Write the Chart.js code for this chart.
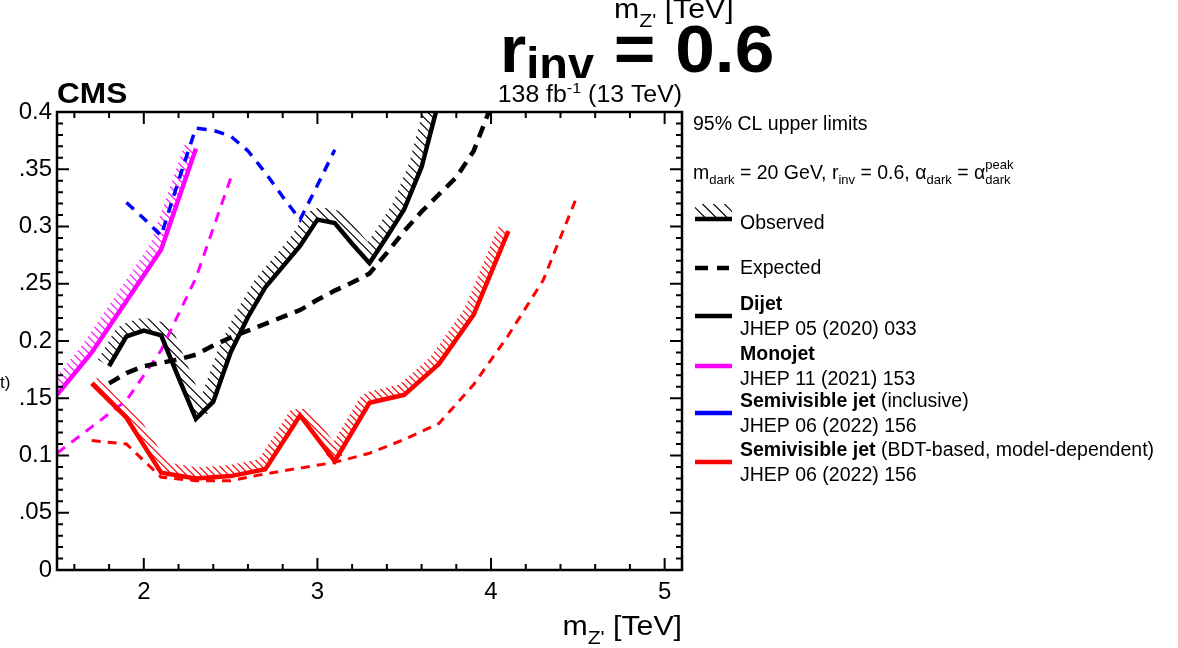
<!DOCTYPE html>
<html>
<head>
<meta charset="utf-8">
<script src="https://cdn.jsdelivr.net/npm/chart.js@4.4.1/dist/chart.umd.min.js"></script>
<style>
  html, body { margin: 0; padding: 0; background: #fff; }
  canvas { display: block; }
</style>
</head>
<body>
<canvas id="limits" width="1178" height="648"></canvas>
<script>
// ---- data (m_Z' in TeV, limit on coupling) ----
const dijetObsX = [1.8, 1.9, 2.0, 2.1, 2.2, 2.3, 2.4, 2.5, 2.6, 2.7, 2.8, 2.9, 3.0, 3.1, 3.2, 3.3, 3.4, 3.5, 3.6, 3.7];
const dijetObs  = [0.178, 0.204, 0.209, 0.205, 0.168, 0.132, 0.147, 0.19, 0.221, 0.247, 0.265, 0.283, 0.306, 0.303, 0.285, 0.268, 0.291, 0.315, 0.352, 0.41];
const dijetExpX = [1.8, 1.9, 2.0, 2.1, 2.2, 2.3, 2.4, 2.5, 2.6, 2.7, 2.8, 2.9, 3.0, 3.1, 3.2, 3.3, 3.4, 3.5, 3.6, 3.7, 3.8, 3.9, 4.0];
const dijetExp  = [0.163, 0.172, 0.178, 0.181, 0.184, 0.188, 0.196, 0.203, 0.209, 0.215, 0.221, 0.227, 0.236, 0.244, 0.251, 0.259, 0.277, 0.296, 0.313, 0.328, 0.343, 0.366, 0.405];

const monoObsX = [1.5, 1.7, 1.9, 2.1, 2.3];
const monoObs  = [0.153, 0.19, 0.235, 0.28, 0.368];
const monoExpX = [1.5, 1.7, 1.9, 2.1, 2.3, 2.5];
const monoExp  = [0.102, 0.125, 0.148, 0.192, 0.255, 0.342];

const svjExpX = [1.9, 2.0, 2.1, 2.2, 2.3, 2.4, 2.5, 2.6, 2.7, 2.8, 2.9, 3.0, 3.1];
const svjExp  = [0.321, 0.307, 0.292, 0.34, 0.386, 0.384, 0.379, 0.366, 0.347, 0.326, 0.306, 0.336, 0.367];

const bdtObsX = [1.7, 1.9, 2.1, 2.3, 2.5, 2.7, 2.9, 3.1, 3.3, 3.5, 3.7, 3.9, 4.1];
const bdtObs  = [0.163, 0.133, 0.085, 0.080, 0.082, 0.088, 0.135, 0.095, 0.146, 0.153, 0.18, 0.223, 0.296];
const bdtExpX = [1.7, 1.9, 2.1, 2.3, 2.5, 2.7, 2.9, 3.1, 3.3, 3.5, 3.7, 3.9, 4.1, 4.3, 4.5];
const bdtExp  = [0.113, 0.110, 0.081, 0.078, 0.078, 0.084, 0.089, 0.094, 0.102, 0.114, 0.128, 0.162, 0.205, 0.253, 0.328];

const xTickValues = [2, 3, 4, 5];
const xTickLabels = ["2", "3", "4", "5"];
const yTickValues = [0, 0.05, 0.1, 0.15, 0.2, 0.25, 0.3, 0.35, 0.4];
const yTickLabels = ["0", ".05", "0.1", ".15", "0.2", ".25", "0.3", ".35", "0.4"];

const FAM = '"Liberation Sans", Arial, Helvetica, sans-serif';
const BLACK = '#000000', MAGENTA = '#ff00ff', BLUE = '#0000ff', RED = '#ff0000';

function pts(xs, ys) { return xs.map((x, i) => ({ x: x, y: ys[i] })); }
function font(size, bold) { return (bold ? 'bold ' : '') + size + 'px ' + FAM; }

// draws a run of text pieces (sub/superscripts), returns width
function rich(ctx, x, y, parts, dry, sx) {
  sx = sx || 1;
  ctx.save();
  ctx.translate(x, y);
  ctx.scale(sx, 1);
  let cx = 0;
  for (const p of parts) {
    if (p.stack) {
      ctx.font = font(p.size, false);
      if (!dry) { ctx.fillText(p.sup, cx, p.supDy); ctx.fillText(p.sub, cx, p.subDy); }
      cx += Math.max(ctx.measureText(p.sup).width, ctx.measureText(p.sub).width);
      continue;
    }
    ctx.font = font(p.size, p.bold);
    if (!dry) ctx.fillText(p.t, cx, p.dy || 0);
    cx += ctx.measureText(p.t).width;
  }
  ctx.restore();
  return cx * sx;
}

// hatched band on the excluded side of a polyline
function hatchBand(ctx, points, width, gap, color, clipRect) {
  ctx.save();
  ctx.beginPath();
  ctx.rect(clipRect.left, clipRect.top, clipRect.width, clipRect.height);
  ctx.clip();
  const polys = [];
  let prevN = null;
  for (let k = 0; k < points.length - 1; k++) {
    const a = points[k], b = points[k + 1];
    const dx = b.x - a.x, dy = b.y - a.y, len = Math.hypot(dx, dy) || 1;
    const n = { x: dy / len * width, y: -dx / len * width };
    polys.push([a, b, { x: b.x + n.x, y: b.y + n.y }, { x: a.x + n.x, y: a.y + n.y }]);
    if (prevN) polys.push([a, { x: a.x + prevN.x, y: a.y + prevN.y }, { x: a.x + n.x, y: a.y + n.y }]);
    prevN = n;
  }
  ctx.beginPath();
  for (let poly of polys) {
    let area = 0;
    for (let i = 0; i < poly.length; i++) {
      const p = poly[i], q = poly[(i + 1) % poly.length];
      area += p.x * q.y - q.x * p.y;
    }
    if (area < 0) poly = poly.slice().reverse();
    ctx.moveTo(poly[0].x, poly[0].y);
    for (let i = 1; i < poly.length; i++) ctx.lineTo(poly[i].x, poly[i].y);
    ctx.closePath();
  }
  ctx.clip('nonzero');
  ctx.beginPath();
  const H = clipRect.height;
  for (let s = clipRect.left - H + 0.5; s < clipRect.left + clipRect.width; s += gap) {
    ctx.moveTo(s, clipRect.top);
    ctx.lineTo(s + H, clipRect.top + H);
  }
  ctx.strokeStyle = color;
  ctx.lineWidth = 1.2;
  ctx.stroke();
  ctx.restore();
}

const hatchOf = {
  dijetObs: { width: 13, gap: 9, color: BLACK },
  monoObs: { width: 12, gap: 8, color: MAGENTA },
  bdtObs: { width: 11, gap: 7, color: RED }
};

const rootStyle = {
  id: 'rootStyle',
  beforeDatasetsDraw(chart) {
    const ctx = chart.ctx, area = chart.chartArea;
    const rect = { left: area.left, top: area.top, width: area.right - area.left, height: area.bottom - area.top };
    chart.data.datasets.forEach((ds, i) => {
      const h = hatchOf[ds.key];
      if (!h) return;
      const p = chart.getDatasetMeta(i).data.map(e => ({ x: e.x, y: e.y }));
      hatchBand(ctx, p, h.width, h.gap, h.color, rect);
    });
  },
  afterDraw(chart) {
    const ctx = chart.ctx, a = chart.chartArea;
    const xs = chart.scales.x, ys = chart.scales.y;
    ctx.save();
    // frame
    ctx.strokeStyle = BLACK;
    ctx.lineWidth = 2.5;
    ctx.strokeRect(a.left, a.top, a.right - a.left, a.bottom - a.top);
    // inward ticks
    ctx.lineWidth = 2;
    ctx.beginPath();
    for (let v = 1.6; v < 5.1; v += 0.2) {
      const major = xTickValues.some(t => Math.abs(t - v) < 1e-6);
      const L = major ? 12 : 6, px = xs.getPixelForValue(v);
      ctx.moveTo(px, a.bottom); ctx.lineTo(px, a.bottom - L);
      ctx.moveTo(px, a.top); ctx.lineTo(px, a.top + L);
    }
    for (let k = 1; k < 40; k++) {
      const v = k / 100, L = (k % 5 === 0) ? 12 : 6, py = ys.getPixelForValue(v);
      ctx.moveTo(a.left, py); ctx.lineTo(a.left + L, py);
      ctx.moveTo(a.right, py); ctx.lineTo(a.right - L, py);
    }
    ctx.stroke();

    ctx.fillStyle = BLACK;
    ctx.textBaseline = 'alphabetic';
    ctx.textAlign = 'left';

    // axis title repeated at the very top (cut by the canvas edge)
    const axisTitle = [{ t: 'm', size: 27 }, { t: "Z'", size: 19, dy: 9 }, { t: ' [TeV]', size: 27 }];
    rich(ctx, 614, 18, axisTitle, false, 1.12);

    // big title
    const w1 = rich(ctx, 500, 72, [{ t: 'r', size: 66, bold: true }, { t: 'inv', size: 46, bold: true, dy: 8 }], false, 1.02);
    rich(ctx, 500 + w1, 72, [{ t: ' = 0.6', size: 66, bold: true }], false, 1.08);

    // lumi label on white box
    ctx.fillStyle = '#fff';
    ctx.fillRect(490, 78, 200, 32);
    ctx.fillStyle = BLACK;
    const lumi = [{ t: '138 fb', size: 23 }, { t: '-1', size: 15, dy: -9 }, { t: ' (13 TeV)', size: 23 }];
    const lw = rich(ctx, 0, 0, lumi, true, 1.08);
    rich(ctx, a.right - lw, 102, lumi, false, 1.08);

    // CMS
    rich(ctx, a.left, 103, [{ t: 'CMS', size: 29, bold: true }], false, 1.09);

    // x axis title
    const tw = rich(ctx, 0, 0, axisTitle, true, 1.12);
    rich(ctx, a.right - tw, 635, axisTitle, false, 1.12);

    // piece of a y title sticking in from the left
    ctx.font = font(17, false);
    ctx.fillText('t)', 0, 388);

    // ---- legend ----
    const LX = 693, TX = 740, S = 19.5;
    rich(ctx, LX, 130, [{ t: '95% CL upper limits', size: S }]);
    rich(ctx, LX, 179, [
      { t: 'm', size: S }, { t: 'dark', size: 13, dy: 5 }, { t: ' = 20 GeV, r', size: S }, { t: 'inv', size: 13, dy: 5 },
      { t: ' = 0.6, α', size: S }, { t: 'dark', size: 13, dy: 5 }, { t: ' = α', size: S },
      { stack: true, sup: 'peak', sub: 'dark', size: 13, supDy: -10, subDy: 5 }
    ]);
    // observed symbol
    hatchBand(ctx, [{ x: 695, y: 219 }, { x: 732, y: 219 }], 15, 11, BLACK, { left: 695, top: 203, width: 37, height: 16 });
    ctx.strokeStyle = BLACK;
    ctx.lineWidth = 4.5;
    ctx.beginPath(); ctx.moveTo(695, 219); ctx.lineTo(732, 219); ctx.stroke();
    rich(ctx, TX, 229, [{ t: 'Observed', size: S }]);
    // expected symbol
    ctx.beginPath(); ctx.moveTo(695, 268); ctx.lineTo(708, 268); ctx.moveTo(717, 268); ctx.lineTo(729, 268); ctx.stroke();
    rich(ctx, TX, 274, [{ t: 'Expected', size: S }]);

    const entries = [
      { color: BLACK, y: 316, head: [{ t: 'Dijet', size: S, bold: true }], ref: 'JHEP 05 (2020) 033' },
      { color: MAGENTA, y: 366, head: [{ t: 'Monojet', size: S, bold: true }], ref: 'JHEP 11 (2021) 153' },
      { color: BLUE, y: 413, head: [{ t: 'Semivisible jet', size: S, bold: true }, { t: ' (inclusive)', size: S }], ref: 'JHEP 06 (2022) 156' },
      { color: RED, y: 462, head: [{ t: 'Semivisible jet', size: S, bold: true }, { t: ' (BDT-based, model-dependent)', size: S }], ref: 'JHEP 06 (2022) 156' }
    ];
    entries.forEach(e => {
      ctx.strokeStyle = e.color;
      ctx.lineWidth = 4.5;
      ctx.beginPath(); ctx.moveTo(695, e.y); ctx.lineTo(732, e.y); ctx.stroke();
      rich(ctx, TX, e.y - 6, e.head);
      rich(ctx, TX, e.y + 19, [{ t: e.ref, size: S }]);
    });
    ctx.restore();
  }
};

const solid = (key, label, xs, ys, color) => ({
  key: key, label: label, data: pts(xs, ys), borderColor: color, borderWidth: 4.5,
  fill: false, pointRadius: 0, tension: 0
});
const dashed = (key, label, xs, ys, color, w, dash) => ({
  key: key, label: label, data: pts(xs, ys), borderColor: color, borderWidth: w,
  borderDash: dash, fill: false, pointRadius: 0, tension: 0
});

new Chart(document.getElementById('limits'), {
  type: 'line',
  data: {
    datasets: [
      solid('dijetObs', 'Dijet observed', dijetObsX, dijetObs, BLACK),
      solid('monoObs', 'Monojet observed', monoObsX, monoObs, MAGENTA),
      solid('bdtObs', 'Semivisible jet (BDT) observed', bdtObsX, bdtObs, RED),
      dashed('dijetExp', 'Dijet expected', dijetExpX, dijetExp, BLACK, 4.5, [12, 8]),
      dashed('monoExp', 'Monojet expected', monoExpX, monoExp, MAGENTA, 3, [10, 8]),
      dashed('svjExp', 'Semivisible jet (inclusive) expected', svjExpX, svjExp, BLUE, 3.5, [10, 8]),
      dashed('bdtExp', 'Semivisible jet (BDT) expected', bdtExpX, bdtExp, RED, 3, [9, 7])
    ]
  },
  options: {
    responsive: false,
    animation: false,
    devicePixelRatio: 1,
    layout: { padding: { top: 112, right: 496, left: 0, bottom: 0 } },
    plugins: { legend: { display: false }, tooltip: { enabled: false } },
    scales: {
      x: {
        type: 'linear', min: 1.5, max: 5.1,
        grid: { display: false, drawTicks: false }, border: { display: false },
        afterBuildTicks: s => { s.ticks = xTickValues.map(v => ({ value: v })); },
        afterFit: s => { s.height = 78; },
        ticks: { autoSkip: false, maxRotation: 0, padding: 8, color: BLACK, font: { family: FAM, size: 24 },
                 callback: (v, i) => xTickLabels[i] }
      },
      y: {
        type: 'linear', min: 0, max: 0.4,
        grid: { display: false, drawTicks: false }, border: { display: false },
        afterBuildTicks: s => { s.ticks = yTickValues.map(v => ({ value: v })); },
        afterFit: s => { s.width = 57; },
        ticks: { autoSkip: false, padding: 5, color: BLACK, font: { family: FAM, size: 24 },
                 callback: (v, i) => yTickLabels[i] }
      }
    }
  },
  plugins: [rootStyle]
});
</script>
</body>
</html>
